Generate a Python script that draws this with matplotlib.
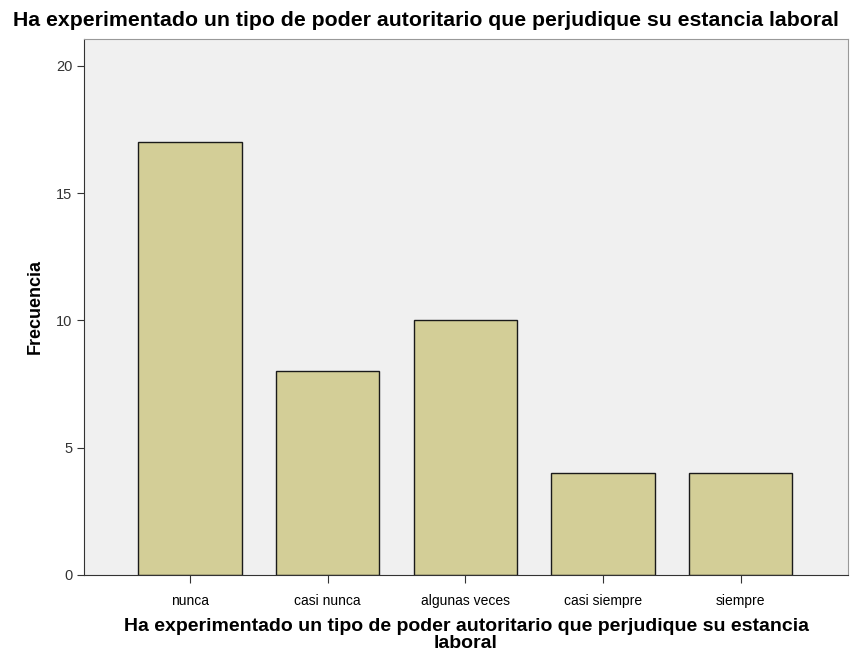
import matplotlib
matplotlib.use("Agg")
import matplotlib.pyplot as plt

categories = ["nunca", "casi nunca", "algunas veces", "casi siempre", "siempre"]
values = [17, 8, 10, 4, 4]
yticks = [0, 5, 10, 15, 20]

plt.rcParams['font.family'] = ['Liberation Sans', 'DejaVu Sans']

fig = plt.figure(figsize=(8.52, 6.53), dpi=100)
ax = fig.add_axes([84/852, 78/653, 764/852, 536/653])
ax.set_facecolor('#F0F0F0')
x = list(range(len(categories)))
ax.bar(x, values, width=0.75, color='#D3CE97', edgecolor='#1a1a1a', linewidth=1.0, zorder=2)
ax.set_xlim(-0.77, 4.78)
ax.set_ylim(0, 21.06)
ax.set_yticks(yticks)
ax.set_xticks(x)
ax.set_xticklabels(categories, fontsize=10)
ax.tick_params(axis='y', labelsize=10.5, direction='out', length=5, color='#333333', labelcolor='#333333')
ax.tick_params(axis='x', direction='out', length=6, color='#333333', pad=8)
for s in ['top', 'right']:
    ax.spines[s].set_color('#999999')
for s in ['left', 'bottom']:
    ax.spines[s].set_color('#333333')
ax.set_ylabel('Frecuencia', fontsize=13, fontweight='bold', labelpad=9)
fig.text(466/852, 1 - 635/653,
         'Ha experimentado un tipo de poder autoritario que perjudique su estancia\nlaboral',
         ha='center', va='center', fontsize=14, fontweight='bold', linespacing=0.95)
fig.text(0.5, 1 - 20/653, 'Ha experimentado un tipo de poder autoritario que perjudique su estancia laboral',
         ha='center', va='center', fontsize=15.3, fontweight='bold')
fig.savefig('out.png', dpi=100)
